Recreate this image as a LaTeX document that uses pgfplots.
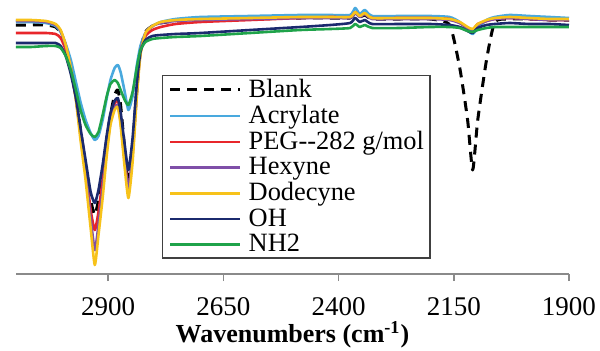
\documentclass[border=0pt]{standalone}
\usepackage{pgfplots}
\pgfplotsset{compat=1.18}
\usepackage{pgfplotstable}
\usepackage{fontspec}
\setmainfont{Liberation Serif}
\definecolor{cAcr}{HTML}{49A9DE}
\definecolor{cPeg}{HTML}{E8262B}
\definecolor{cHex}{HTML}{7F4FA8}
\definecolor{cDod}{HTML}{F7C21A}
\definecolor{cOH}{HTML}{1B2A6E}
\definecolor{cNH}{HTML}{1FA34A}
\definecolor{cAx}{HTML}{8A8A8A}
% depth values (0 = top of plot area, 274 = axis line)
\pgfplotstableread{
wn   acr peg hex dod oh  nh  blank
3100 22  33  21  20  43  47  25
3068 22  33  21  20  43  47  25
3035 23  33  22  21  43  46  25
3014 26  34  25  24  43  46  27
3003 32  38  31  30  46  48  33
2992 44  50  46  45  56  56  46
2981 60  70  68  68  74  70  68
2970 82  98  98  100 98  90  96
2960 102 132 135 140 128 110 130
2949 120 168 172 180 160 125 165
2938 133 210 218 228 192 134 200
2929 140 230 250 265 203 137 215
2921 136 212 225 235 190 132 200
2912 120 180 190 198 165 115 172
2903 98  145 150 155 135 96  140
2895 80  120 122 125 113 84  115
2886 68  104 108 110 101 80  95
2879 65  100 105 107 98  83  90
2873 72  118 122 125 112 90  105
2864 92  158 162 168 145 100 150
2856 110 190 188 198 170 105 185
2847 96  152 155 162 138 92  148
2838 66  92  95  98  85  68  90
2830 46  52  52  55  52  50  50
2819 33  36  33  33  40  42  32
2804 26  30  26  26  36  39  26
2786 22  27  23  22  35  38  23
2754 19  24  21  20  34  37  21
2700 17  22  20  19  33  36  20
2592 16  20  19  18  30  33  19
2483 15  18  18  17  27  30  18
2418 15  17  18  17  25  29  18
2375 15  17  18  17  23  28  18
2364 8   12  13  12  18  24  13
2354 14  16  17  16  22  27  17
2343 10  14  14  13  20  25  15
2327 16  18  19  18  24  28  19
2267 16  18  19  18  24  28  19
2202 16  18  19  18  24  27  19
2159 17  19  20  19  25  27  25
2137 22  23  23  22  27  28  68
2120 30  28  28  27  31  31  120
2109 34  30  31  29  33  32  170
2098 28  24  25  24  28  30  120
2079 20  21  21  20  25  28  60
2061 17  19  19  18  24  27  22
2029 15  18  18  17  23  27  19
1986 16  19  19  18  24  27  19
1942 17  20  20  19  24  27  20
1900 18  20  20  19  25  27  20
}\spectra
\begin{document}
\begin{tikzpicture}
\useasboundingbox (-8pt,-38pt) rectangle (292pt,137pt);
\begin{axis}[
  at={(0,0)}, anchor=south west,
  scale only axis, width=276.5pt, height=134pt,
  x dir=reverse, xmin=1900, xmax=3100,
  ymin=0, ymax=268,
  axis x line=bottom, axis y line=none,
  axis line style={-, cAx, line width=0.8pt},
  xtick={2900,2650,2400,2150,1900},
  tick style={cAx, line width=0.8pt},
  tick align=outside, major tick length=3.5pt,
  xtick pos=bottom,
  /pgf/number format/assume math mode=true,
  /pgf/number format/1000 sep={},
  xticklabel style={font=\fontsize{13.5}{16}\selectfont, text=black, yshift=-4.5pt},
  xlabel={\textbf{Wavenumbers (cm\textsuperscript{-1})}},
  xlabel style={at={(axis description cs:0.5,0)}, anchor=base, yshift=-34pt, font=\fontsize{13}{15}\selectfont},
  clip=false,
  legend cell align=left,
  legend style={at={(rel axis cs:0.264,0.743)}, anchor=north west,
    draw=black!75, line width=0.7pt, fill=white,
    font=\fontsize{13.2}{13}\selectfont,
    inner xsep=3pt, inner ysep=1.8pt, row sep=2.4pt,
    nodes={inner sep=0pt},
    /tikz/every odd column/.append style={column sep=3.5pt}},
  legend image code/.code={\draw[#1] (0pt,0pt) -- (35pt,0pt);},
  every axis plot/.append style={line width=1.3pt, line join=round, smooth, tension=0.35},
]
\addplot[black, dash pattern=on 5pt off 3.5pt, line width=1.5pt] table[x=wn, y expr=274-\thisrow{blank}] {\spectra};
\addlegendentry{Blank}
\addplot[cAcr] table[x=wn, y expr=274-\thisrow{acr}] {\spectra};
\addlegendentry{Acrylate}
\addplot[cPeg] table[x=wn, y expr=274-\thisrow{peg}] {\spectra};
\addlegendentry{PEG-{}-282 g/mol}
\addplot[cHex] table[x=wn, y expr=274-\thisrow{hex}] {\spectra};
\addlegendentry{Hexyne}
\addplot[cDod] table[x=wn, y expr=274-\thisrow{dod}] {\spectra};
\addlegendentry{Dodecyne}
\addplot[cOH] table[x=wn, y expr=274-\thisrow{oh}] {\spectra};
\addlegendentry{OH}
\addplot[cNH] table[x=wn, y expr=274-\thisrow{nh}] {\spectra};
\addlegendentry{NH2}
\end{axis}
\end{tikzpicture}
\end{document}
